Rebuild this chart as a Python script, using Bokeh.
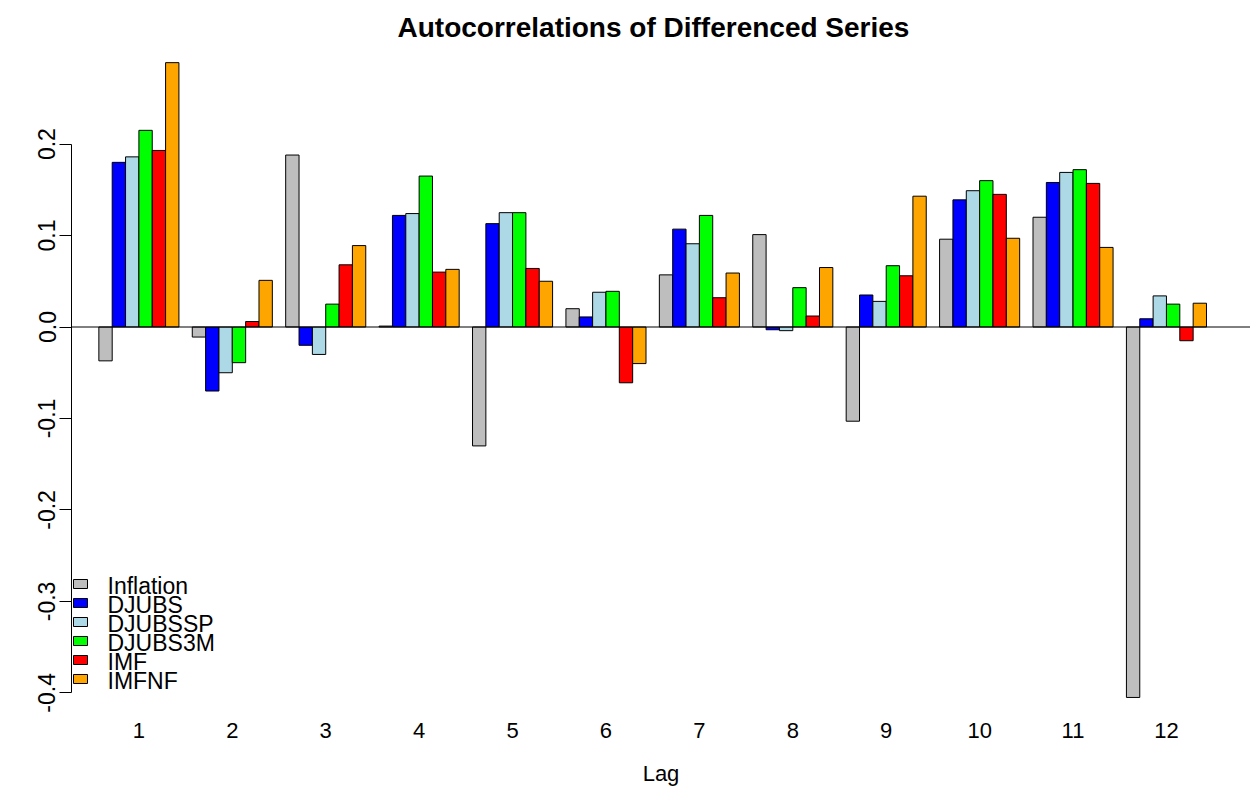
from bokeh.plotting import figure
from bokeh.models import Range1d, FixedTicker, Span, Title, ColumnDataSource
from bokeh.core.properties import value
from bokeh.embed import file_html
from bokeh.resources import INLINE

lags = ["1", "2", "3", "4", "5", "6", "7", "8", "9", "10", "11", "12"]
series_names = ["Inflation", "DJUBS", "DJUBSSP", "DJUBS3M", "IMF", "IMFNF"]
inflation = [-0.037, -0.011, 0.188, 0.001, -0.130, 0.020, 0.057, 0.101, -0.103, 0.096, 0.120, -0.405]
djubs = [0.180, -0.070, -0.020, 0.122, 0.113, 0.011, 0.107, -0.003, 0.035, 0.139, 0.158, 0.009]
djubssp = [0.186, -0.050, -0.030, 0.124, 0.125, 0.038, 0.091, -0.004, 0.028, 0.149, 0.169, 0.034]
djubs3m = [0.215, -0.039, 0.025, 0.165, 0.125, 0.039, 0.122, 0.043, 0.067, 0.160, 0.172, 0.025]
imf = [0.193, 0.006, 0.068, 0.060, 0.064, -0.061, 0.032, 0.012, 0.056, 0.145, 0.157, -0.015]
imfnf = [0.289, 0.051, 0.089, 0.063, 0.050, -0.040, 0.059, 0.065, 0.143, 0.097, 0.087, 0.026]
y_ticks = [-0.4, -0.3, -0.2, -0.1, 0.0, 0.1, 0.2]
y_tick_labels = ["-0.4", "-0.3", "-0.2", "-0.1", "0.0", "0.1", "0.2"]

series = [inflation, djubs, djubssp, djubs3m, imf, imfnf]
colors = ["#BEBEBE", "#0000FF", "#ADD8E6", "#00FF00", "#FF0000", "#FFA500"]

FONT = "Liberation Sans"
W, H = 1250, 788
FL, FT, FB = 71, 48, 712
ZERO_PY = 326.5
PX_Y = 914.7
PX_X = 13.345
x0 = -1.05
x1 = x0 + (W - FL) / PX_X
y1 = (ZERO_PY - FT) / PX_Y
y0 = (ZERO_PY - FB) / PX_Y

def px_to_x(px):
    return x0 + (px - FL) / PX_X

def py_to_y(py):
    return (ZERO_PY - py) / PX_Y

n_groups = len(lags)
n_series = len(series)
group_w = n_series + 1

p = figure(width=W, height=H, output_backend="svg", toolbar_location=None,
           x_range=Range1d(x0, x1), y_range=Range1d(y0, y1),
           min_border_left=FL, min_border_right=0, min_border_top=FT,
           min_border_bottom=H - FB)
p.outline_line_color = None
p.xgrid.visible = False
p.ygrid.visible = False
p.background_fill_color = "white"
p.border_fill_color = "white"

title = Title(text="Autocorrelations of Differenced Series", align="left",
              offset=326, text_font=FONT, text_font_size="28px",
              text_font_style="bold", text_color="black", standoff=10,
              vertical_align="middle")
p.title = title

# zero line
p.add_layout(Span(location=0, dimension="width", line_color="black", line_width=1))

for k, vals in enumerate(series):
    xs = [g * group_w + 1 + k + 0.5 for g in range(n_groups)]
    src = ColumnDataSource(dict(x=xs, top=vals))
    p.vbar(x="x", top="top", bottom=0, width=1, source=src,
           fill_color=colors[k], line_color="black", line_width=1)

# y axis
ya = p.yaxis[0]
ya.ticker = FixedTicker(ticks=y_ticks)
ya.major_label_overrides = {t: l for t, l in zip(y_ticks, y_tick_labels)}
ya.bounds = (min(y_ticks), max(y_ticks))
ya.major_label_orientation = "vertical"
ya.major_tick_out = 12
ya.major_tick_in = 0
ya.minor_tick_line_color = None
ya.axis_line_color = "black"
ya.major_tick_line_color = "black"
ya.major_label_text_font = FONT
ya.major_label_text_font_size = "23px"
ya.major_label_text_color = "black"
ya.major_label_standoff = 4

# x axis (group labels)
xa = p.xaxis[0]
centers = [g * group_w + 1 + n_series / 2 for g in range(n_groups)]
xa.ticker = FixedTicker(ticks=centers)
xa.major_label_overrides = {c: l for c, l in zip(centers, lags)}
xa.axis_line_color = None
xa.major_tick_line_color = None
xa.minor_tick_line_color = None
xa.major_tick_out = 0
xa.major_label_standoff = 10
xa.major_label_text_font = FONT
xa.major_label_text_font_size = "22px"
xa.major_label_text_color = "black"
xa.axis_label = "Lag"
xa.axis_label_text_font = FONT
xa.axis_label_text_font_size = "22px"
xa.axis_label_text_font_style = "normal"
xa.axis_label_text_color = "black"
xa.axis_label_standoff = 20

# legend (manual, R-style tight rows)
row0 = 583.5
row_step = 19.0
lx = [px_to_x(80)] * n_series
ly = [py_to_y(row0 + row_step * i) for i in range(n_series)]
p.rect(x=lx, y=ly, width=14, height=9, width_units="screen", height_units="screen",
       fill_color=colors, line_color="black", line_width=1)
tx = [px_to_x(107)] * n_series
ty = [py_to_y(row0 + row_step * i + 2) for i in range(n_series)]
p.text(x=tx, y=ty, text=series_names, text_font=value(FONT), text_font_size="23px",
       text_baseline="middle", text_align="left", text_color="black")

open("out.html", "w").write(file_html(p, INLINE))
